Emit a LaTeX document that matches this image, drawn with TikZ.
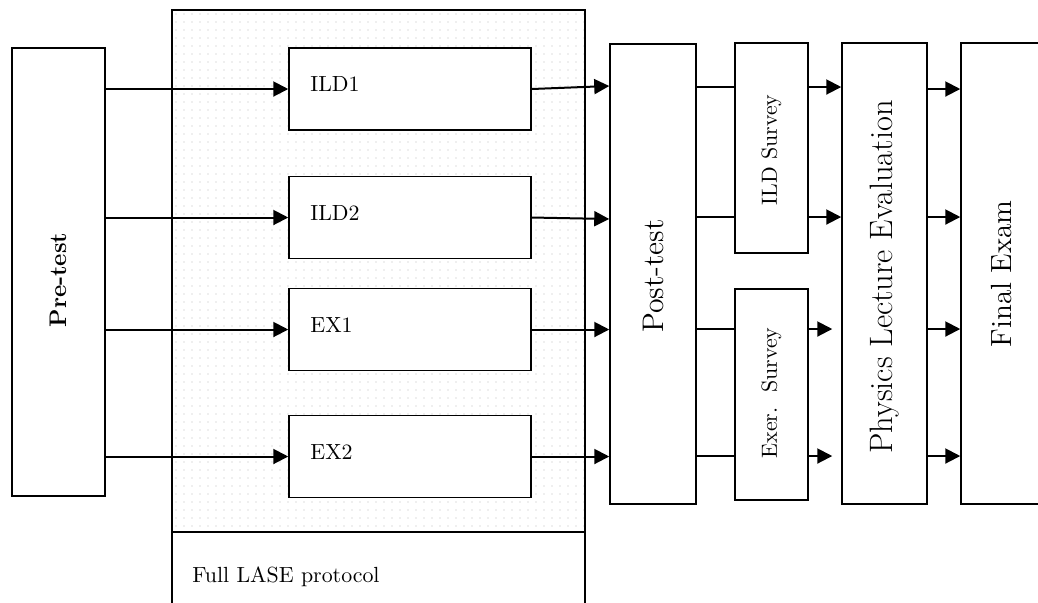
\documentclass[tikz,border=0pt]{standalone}
\usetikzlibrary{arrows.meta}
\begin{document}
\begin{tikzpicture}[x=0.5pt,y=-0.5pt,
  box/.style={draw, line width=0.75pt, fill=white, inner sep=0pt},
  flow/.style={line width=1pt, -{Triangle[length=7.5pt,width=7.5pt]}},
  link/.style={line width=1pt},
  lbl/.style={inner sep=0pt, font=\fontsize{10.95}{13}\selectfont},
  vlbl/.style={inner sep=0pt, rotate=90, font=\fontsize{10.95}{13}\selectfont},
  dotc/.style={fill=black!13}]
\useasboundingbox (0,0) rectangle (1038,602);
\clip (0,0) rectangle (1038,602);

% levels of the connectors
\coordinate (r1) at (0,87);
\coordinate (r2) at (0,217);
\coordinate (r3) at (0,329);
\coordinate (r4) at (0,456);
\coordinate (p1) at (0,86);
\coordinate (p2) at (0,219);

% protocol frame with dotted background
\foreach \i in {0,...,51}
  \foreach \j in {0,...,64}
    \fill[dotc] (176+8*\i,14+8*\j) circle[radius=0.45pt];
\draw[line width=0.75pt] (172,620) -- (172,10) -- (585,10) -- (585,620);
\draw[line width=0.75pt] (172,532) -- (585,532);
\node[lbl, anchor=west] (prot) at (192,577) {Full LASE protocol};

% pre-test
\node[box, minimum width=46.5pt, minimum height=224pt] (pre) at (58.5,272) {};
\node[vlbl, font=\fontsize{12}{14}\selectfont\bfseries] (pretxt) at (58,280) {Pre-test};

% activities
\node[box, minimum width=121pt, minimum height=41pt] (ild1) at (410,89) {};
\node[box, minimum width=121pt, minimum height=41pt] (ild2) at (410,217.5) {};
\node[box, minimum width=121pt, minimum height=41pt] (ex1) at (410,329.5) {};
\node[box, minimum width=121pt, minimum height=41pt] (ex2) at (410,456.5) {};
\node[lbl, anchor=west] (ild1txt) at (310,84.5) {ILD1};
\node[lbl, anchor=west] (ild2txt) at (310,213) {ILD2};
\node[lbl, anchor=west] (ex1txt) at (310,325) {EX1};
\node[lbl, anchor=west] (ex2txt) at (310,452) {EX2};

% post-test and surveys
\node[box, minimum width=43pt, minimum height=230pt] (post) at (653,274) {};
\node[vlbl, font=\fontsize{14.9}{17}\selectfont] (posttxt) at (653,276) {Post-test};
\node[box, minimum width=36.5pt, minimum height=105pt] (ilds) at (771.5,148) {};
\node[vlbl] (ildstxt) at (771.5,150) {ILD Survey};
\node[box, minimum width=36.5pt, minimum height=105.5pt] (exs) at (771.5,394.5) {};
\node[vlbl] (exstxt) at (771.5,393) {Exer.\ \ Survey};

% evaluation and exam
\node[box, minimum width=42.5pt, minimum height=230.5pt] (ple) at (884.5,273.5) {};
\node[vlbl, font=\fontsize{16.2}{19}\selectfont] (pletxt) at (884.5,277) {Physics Lecture Evaluation};
\node[box, minimum width=49.5pt, minimum height=230.5pt] (fin) at (1010.5,273.5) {};
\node[vlbl, font=\fontsize{14.6}{17}\selectfont] (fintxt) at (1001,274) {Final Exam};

% pre-test to activities
\draw[flow] (pre.east |- ild1) -- (ild1.west);
\draw[flow] (pre.east |- ild2) -- (ild2.west);
\draw[flow] (pre.east |- ex1) -- (ex1.west);
\draw[flow] (pre.east |- ex2) -- (ex2.west);

% activities to post-test
\draw[flow] (ild1.east) -- (post.west |- p1);
\draw[flow] (ild2.east) -- (post.west |- p2);
\draw[flow] (ex1.east) -- (post.west |- ex1);
\draw[flow] (ex2.east) -- (post.west |- ex2);

% post-test to surveys
\draw[link] (post.east |- r1) -- (ilds.west |- r1);
\draw[link] (post.east |- r2) -- (ilds.west |- r2);
\draw[link] (post.east |- r3) -- (exs.west |- r3);
\draw[link] (post.east |- r4) -- (exs.west |- r4);

% surveys to evaluation
\draw[flow] (ilds.east |- r1) -- (ple.west |- r1);
\draw[flow] (ilds.east |- r2) -- (ple.west |- r2);
\draw[flow] (exs.east |- r3) -- ([xshift=-4.5pt]ple.west |- r3);
\draw[flow] (exs.east |- r4) -- ([xshift=-4.5pt]ple.west |- r4);

% evaluation to exam
\draw[flow] (ple.east |- ild1) -- (fin.west |- ild1);
\draw[flow] (ple.east |- r2) -- (fin.west |- r2);
\draw[flow] (ple.east |- r3) -- (fin.west |- r3);
\draw[flow] (ple.east |- r4) -- (fin.west |- r4);
\end{tikzpicture}
\end{document}
